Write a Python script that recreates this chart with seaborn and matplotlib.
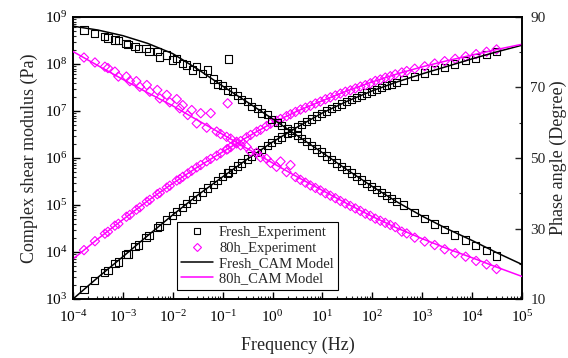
import numpy as np
import pandas as pd
import matplotlib
matplotlib.use("Agg")
import matplotlib.pyplot as plt
import seaborn as sns
from matplotlib.lines import Line2D
from matplotlib.ticker import (LogLocator, LogFormatterMathtext, FixedLocator,
                               NullFormatter)

# ---------------- data ----------------
model_logf = [-4, -3.5, -3, -2.5, -2, -1.5, -1, -0.5, 0, 0.5, 1, 1.5, 2, 2.5, 3, 3.5, 4, 4.5, 5]
fresh_model_logG = [3.00, 3.46, 3.90, 4.35, 4.79, 5.21, 5.60, 5.98, 6.34, 6.66, 6.96, 7.21, 7.43, 7.62, 7.79, 7.95, 8.11, 8.26, 8.40]
aged_model_logG = [3.85, 4.28, 4.69, 5.09, 5.46, 5.81, 6.13, 6.45, 6.75, 7.00, 7.22, 7.43, 7.62, 7.79, 7.94, 8.07, 8.19, 8.31, 8.42]
fresh_model_phase = [87.4, 86.3, 84.7, 82.5, 79.6, 75.2, 70.4, 65.8, 61.1, 56.3, 51.5, 46.6, 41.9, 37.5, 33.5, 29.9, 26.6, 23.1, 19.8]
aged_model_phase = [80.2, 76.2, 72.3, 68.5, 64.8, 60.7, 56.7, 52.6, 48.6, 44.6, 40.8, 37.0, 33.4, 30.1, 27.1, 24.3, 21.7, 19.0, 16.4]

fresh_exp_logf = [-3.78, -3.57, -3.37, -3.30, -3.16, -3.09, -2.94, -2.90, -2.76, -2.69,
                  -2.54, -2.48, -2.31, -2.26, -2.12, -2.01, -1.92, -1.81, -1.72, -1.60,
                  -1.52, -1.40, -1.31, -1.19, -1.10, -1.00, -0.90, -0.88, -0.80, -0.70,
                  -0.62, -0.50, -0.42, -0.30, -0.22, -0.10, -0.02, 0.10, 0.18, 0.30,
                  0.38, 0.50, 0.58, 0.68, 0.78, 0.88, 0.98, 1.08, 1.18, 1.28,
                  1.38, 1.48, 1.58, 1.68, 1.78, 1.88, 1.98, 2.08, 2.18, 2.28,
                  2.38, 2.48, 2.62, 2.85, 3.05, 3.25, 3.45, 3.65, 3.87, 4.07,
                  4.29, 4.49]
fresh_exp_logG = [3.20, 3.40, 3.57, 3.61, 3.76, 3.79, 3.95, 3.96, 4.12, 4.15,
                  4.31, 4.35, 4.52, 4.55, 4.68, 4.77, 4.86, 4.94, 5.03, 5.12,
                  5.19, 5.28, 5.36, 5.44, 5.52, 5.60, 5.68, 5.69, 5.75, 5.83,
                  5.89, 5.98, 6.04, 6.12, 6.18, 6.27, 6.33, 6.40, 6.45, 6.53,
                  6.58, 6.66, 6.71, 6.77, 6.83, 6.89, 6.95, 7.00, 7.05, 7.10,
                  7.15, 7.20, 7.25, 7.29, 7.33, 7.38, 7.42, 7.46, 7.50, 7.54,
                  7.57, 7.61, 7.66, 7.74, 7.81, 7.87, 7.93, 8.00, 8.07, 8.13,
                  8.20, 8.26]
fresh_exp_phase = [86.3, 85.4, 84.4, 84.0, 83.5, 83.3, 82.5, 82.2, 81.6, 81.1,
                   81.1, 80.2, 80.2, 78.7, 79.2, 77.8, 78.3, 76.9, 76.4, 75.0,
                   75.9, 74.0, 75.0, 72.4, 71.0, 70.6, 69.3, 78.1, 68.8, 67.8,
                   66.6, 66.0, 64.6, 64.0, 62.8, 62.3, 61.0, 60.0, 59.2, 58.3,
                   57.3, 56.3, 55.5, 54.6, 53.6, 52.6, 51.7, 50.6, 49.6, 48.6,
                   47.6, 46.7, 45.7, 44.8, 43.8, 42.8, 42.0, 41.1, 40.2, 39.4,
                   38.5, 37.7, 36.7, 34.6, 32.9, 31.3, 29.8, 28.2, 26.7, 25.1,
                   23.7, 22.2]

aged_exp_logf = [-3.78, -3.56, -3.36, -3.30, -3.16, -3.09, -2.93, -2.86, -2.73, -2.66,
                 -2.52, -2.46, -2.31, -2.26, -2.12, -2.06, -1.92, -1.86, -1.80, -1.70,
                 -1.62, -1.52, -1.44, -1.32, -1.24, -1.12, -1.04, -0.92, -0.90, -0.84,
                 -0.72, -0.64, -0.52, -0.44, -0.32, -0.24, -0.12, -0.04, 0.08, 0.16,
                 0.28, 0.36, 0.46, 0.56, 0.66, 0.76, 0.86, 0.96, 1.06, 1.16,
                 1.26, 1.36, 1.46, 1.56, 1.66, 1.76, 1.86, 1.96, 2.06, 2.16,
                 2.26, 2.36, 2.46, 2.59, 2.69, 2.85, 3.05, 3.25, 3.45, 3.66,
                 3.87, 4.08, 4.29, 4.49]
aged_exp_logG = [4.04, 4.23, 4.39, 4.43, 4.56, 4.60, 4.75, 4.79, 4.90, 4.95,
                 5.07, 5.11, 5.23, 5.26, 5.37, 5.41, 5.52, 5.55, 5.60, 5.67,
                 5.73, 5.80, 5.85, 5.93, 5.98, 6.05, 6.10, 6.18, 6.19, 6.23,
                 6.31, 6.36, 6.44, 6.49, 6.56, 6.60, 6.68, 6.73, 6.79, 6.83,
                 6.89, 6.93, 6.98, 7.03, 7.07, 7.11, 7.16, 7.20, 7.25, 7.29,
                 7.33, 7.37, 7.41, 7.44, 7.48, 7.52, 7.55, 7.59, 7.64, 7.67,
                 7.71, 7.74, 7.78, 7.82, 7.85, 7.90, 7.95, 8.01, 8.06, 8.11,
                 8.16, 8.21, 8.26, 8.31]
aged_exp_phase = [78.5, 77.1, 75.9, 75.5, 74.5, 73.1, 73.1, 71.8, 71.8, 70.2,
                  70.7, 68.8, 69.3, 66.9, 67.9, 65.8, 66.7, 64.1, 65.0, 62.2,
                  63.6, 59.8, 62.7, 58.6, 62.7, 57.5, 56.8, 56.0, 65.5, 55.5,
                  54.6, 53.6, 53.2, 51.8, 51.5, 50.2, 49.8, 48.6, 47.5, 49.0,
                  46.0, 48.0, 44.6, 43.8, 43.0, 42.2, 41.5, 40.8, 40.0, 39.3,
                  38.6, 37.8, 37.1, 36.4, 35.7, 35.0, 34.2, 33.6, 32.8, 32.2,
                  31.6, 31.0, 30.4, 29.1, 28.6, 27.4, 26.3, 25.3, 24.1, 23.0,
                  22.0, 20.8, 19.8, 18.5]

phase_ticks = [10, 30, 50, 70, 90]
phase_minor_ticks = [20, 40, 60, 80]

labels = ["Fresh_Experiment", "80h_Experiment", "Fresh_CAM Model", "80h_CAM Model"]
xlabel = "Frequency (Hz)"
ylabel_left = "Complex shear modulus (Pa)"
ylabel_right = "Phase angle (Degree)"

# ---------------- style ----------------
sns.set_style("ticks")
plt.rcParams["font.family"] = ["Liberation Serif", "DejaVu Serif"]
plt.rcParams["mathtext.fontset"] = "stix"

BLACK = "#000000"
MAG = "#FF00FF"

model = pd.DataFrame({"f": np.power(10.0, model_logf),
                      "fG": np.power(10.0, fresh_model_logG),
                      "aG": np.power(10.0, aged_model_logG),
                      "fP": fresh_model_phase,
                      "aP": aged_model_phase})
fexp = pd.DataFrame({"f": np.power(10.0, fresh_exp_logf),
                     "G": np.power(10.0, fresh_exp_logG),
                     "P": fresh_exp_phase})
aexp = pd.DataFrame({"f": np.power(10.0, aged_exp_logf),
                     "G": np.power(10.0, aged_exp_logG),
                     "P": aged_exp_phase})

fig = plt.figure(figsize=(5.68, 3.58), dpi=100)
ax = fig.add_axes([73 / 568, 59 / 358, 449 / 568, 282 / 358])
ax2 = ax.twinx()

ms = 28
mew = 0.8
# modulus (left axis)
sns.scatterplot(data=fexp, x="f", y="G", ax=ax, marker="s", s=ms, facecolor="none",
                edgecolor=BLACK, linewidth=mew, legend=False, zorder=3)
sns.scatterplot(data=aexp, x="f", y="G", ax=ax, marker="D", s=ms * 0.8, facecolor="none",
                edgecolor=MAG, linewidth=mew, legend=False, zorder=3)
sns.lineplot(data=model, x="f", y="fG", ax=ax, color=BLACK, lw=1.1, legend=False, zorder=4)
sns.lineplot(data=model, x="f", y="aG", ax=ax, color=MAG, lw=1.1, legend=False, zorder=4)
# phase (right axis)
sns.scatterplot(data=fexp, x="f", y="P", ax=ax2, marker="s", s=ms, facecolor="none",
                edgecolor=BLACK, linewidth=mew, legend=False, zorder=3)
sns.scatterplot(data=aexp, x="f", y="P", ax=ax2, marker="D", s=ms * 0.8, facecolor="none",
                edgecolor=MAG, linewidth=mew, legend=False, zorder=3)
sns.lineplot(data=model, x="f", y="fP", ax=ax2, color=BLACK, lw=1.1, legend=False, zorder=4)
sns.lineplot(data=model, x="f", y="aP", ax=ax2, color=MAG, lw=1.1, legend=False, zorder=4)

for c in ax.collections + ax2.collections:
    c.set_facecolor("none")

ax.set_xscale("log")
ax.set_yscale("log")
ax.set_xlim(1e-4, 1e5)
ax.set_ylim(1e3, 1e9)
ax2.set_ylim(10, 90)

ax.xaxis.set_major_locator(LogLocator(base=10, numticks=20))
ax.xaxis.set_minor_locator(LogLocator(base=10, subs=np.arange(2, 10), numticks=100))
ax.xaxis.set_major_formatter(LogFormatterMathtext())
ax.xaxis.set_minor_formatter(NullFormatter())
ax.yaxis.set_major_locator(LogLocator(base=10, numticks=20))
ax.yaxis.set_minor_locator(LogLocator(base=10, subs=np.arange(2, 10), numticks=100))
ax.yaxis.set_major_formatter(LogFormatterMathtext())
ax.yaxis.set_minor_formatter(NullFormatter())
ax2.yaxis.set_major_locator(FixedLocator(phase_ticks))
ax2.yaxis.set_minor_locator(FixedLocator(phase_minor_ticks))

ax.tick_params(axis="both", which="major", direction="in", length=5, width=1.0,
               labelsize=11, colors=BLACK, top=False, right=False)
ax.tick_params(axis="x", which="major", pad=7)
ax.tick_params(axis="y", which="major", pad=4)
ax.tick_params(axis="both", which="minor", direction="in", length=2.5, width=0.8,
               top=False, right=False)
ax2.tick_params(axis="y", which="major", direction="in", length=5, width=1.0,
                labelsize=11, pad=6)
ax2.tick_params(axis="y", which="minor", direction="in", length=2.5, width=0.8)
ax2.tick_params(axis="x", which="both", bottom=False, top=False, labelbottom=False)
ax2.set_xlabel("")

for a in (ax, ax2):
    for s in a.spines.values():
        s.set_visible(True)
        s.set_color(BLACK)
        s.set_linewidth(1.2)

ax.set_xlabel(xlabel, fontsize=13, labelpad=9)
ax.set_ylabel(ylabel_left, fontsize=13, labelpad=5)
ax2.set_ylabel(ylabel_right, fontsize=13, labelpad=3)

handles = [
    Line2D([], [], ls="none", marker="s", markersize=4.5, mfc="none", mec=BLACK, mew=0.8),
    Line2D([], [], ls="none", marker="D", markersize=4.5, mfc="none", mec=MAG, mew=0.8),
    Line2D([], [], color=BLACK, lw=1.1),
    Line2D([], [], color=MAG, lw=1.1),
]
leg = ax2.legend(handles, labels, loc="lower left", bbox_to_anchor=(0.231, 0.032),
                 borderaxespad=0, frameon=True, fancybox=False, framealpha=1,
                 edgecolor=BLACK, fontsize=10.5, handlelength=2.2, handletextpad=0.4,
                 labelspacing=0.15, borderpad=0.3)
leg.get_frame().set_linewidth(0.8)

fig.savefig("out.png", dpi=100)
